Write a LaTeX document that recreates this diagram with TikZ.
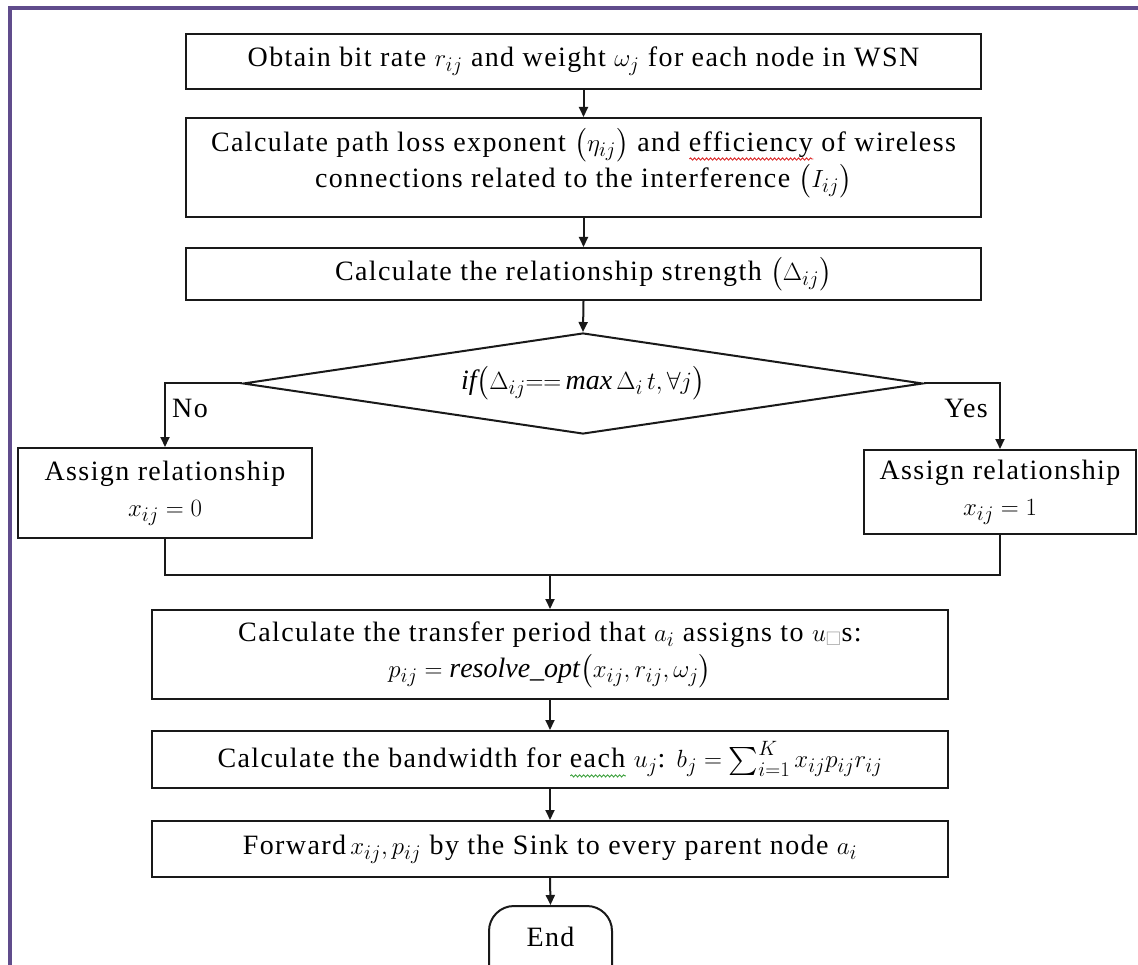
\documentclass[tikz,border=0pt]{standalone}
\usepackage{amsmath,amssymb}
\usepackage{fontspec}
\setmainfont[LetterSpace=5]{Liberation Serif}
\usetikzlibrary{shapes.geometric,arrows.meta,decorations.pathmorphing}

\definecolor{framepurple}{RGB}{96,76,140}
\definecolor{ink}{RGB}{25,25,25}
\definecolor{spellred}{RGB}{220,40,40}
\definecolor{grammargreen}{RGB}{60,160,60}

% word with a wavy proofing underline drawn beneath it
\newcommand\squiggle[2]{\setbox0=\hbox{#2}\rlap{\tikz[baseline=0pt]\draw[#1,line width=0.9pt,
  decorate,decoration={snake,amplitude=1.1pt,segment length=4pt}] (0pt,-8pt) -- (\wd0,-8pt);}\box0\relax}

\begin{document}
\begin{tikzpicture}[x=1pt,y=-1pt,
  txt/.style={font=\fontsize{28}{36}\selectfont},
  box/.style={txt,draw=ink,line width=2pt,rectangle,inner sep=4pt,align=center},
  arr/.style={draw=ink,line width=2pt,-{Triangle[length=10pt,width=9pt]}},
  link/.style={draw=ink,line width=2pt},
  lbl/.style={txt,inner sep=2pt},
]
\useasboundingbox (0,0) rectangle (1138,965);

% page frame
\draw[framepurple,line width=4pt] (10,965) -- (10,8) -- (1138,8);

% process steps
\node[box,minimum width=795pt,minimum height=55pt] (b1) at (583.5,61.5)
  {Obtain bit rate $r_{ij}$ and weight $\omega_j$ for each node in WSN};
\node[box,minimum width=795pt,minimum height=99pt,text depth=20pt] (b2) at (583.5,167.5)
  {Calculate path loss exponent $\bigl(\eta_{ij}\bigr)$ and \squiggle{spellred}{efficiency} of wireless\\
   connections related to the interference $\bigl(I_{ij}\bigr)$};
\node[box,minimum width=795pt,minimum height=52pt] (b3) at (583.5,274)
  {Calculate the relationship strength $\bigl(\Delta_{ij}\bigr)$};

% decision
\node[txt,draw=ink,line width=2pt,diamond,aspect=6.73,minimum width=680pt,minimum height=101pt,inner sep=0pt]
  (dec) at (583,383.5)
  {$\mathit{if}\bigl(\Delta_{ij}{=}{=}\,\mathit{max}\,\Delta_i\,t,\forall j\bigr)$};

\node[box,minimum width=294pt,minimum height=90pt] (lb) at (165,493)
  {Assign relationship\\ $x_{ij}=0$};
\node[box,minimum width=272pt,minimum height=84pt] (rb) at (1000,492)
  {Assign relationship\\ $x_{ij}=1$};

\node[lbl,anchor=west] (no) at (170,408) {No};
\node[lbl,anchor=east] (yes) at (990,408) {Yes};

\node[box,minimum width=796pt,minimum height=89pt] (b4) at (550,654.5)
  {Calculate the transfer period that $a_i$ assigns to $u_{\textcolor{gray!70}{\square}}$s:\\
   $p_{ij}=\mathit{resolve\_opt}\bigl(x_{ij},r_{ij},\omega_j\bigr)$};
\node[box,minimum width=796pt,minimum height=57pt] (b5) at (550,759.5)
  {Calculate the bandwidth for \squiggle{grammargreen}{each} $u_j$: $b_j=\sum_{i=1}^{K} x_{ij}p_{ij}r_{ij}$};
\node[box,minimum width=796pt,minimum height=56pt] (b6) at (550,849)
  {Forward$\,x_{ij},p_{ij}$ by the Sink to every parent node $a_i$};

% terminal
\node[txt,draw=ink,line width=2pt,rectangle,rounded corners=25pt,minimum width=123pt,minimum height=94pt,text depth=32pt]
  (endn) at (550.5,953) {End};

% connectors
\draw[arr] (b1.south) -- (b2.north);
\draw[arr] (b2.south) -- (b3.north);
\draw[arr] (b3.south) -- (dec.north);
\draw[arr] (dec.west) -| (lb.north);
\draw[arr] (dec.east) -| (rb.north);
\coordinate (m) at (550,575);
\draw[link] (lb.south) |- (m);
\draw[link] (rb.south) |- (m);
\draw[arr] (m) -- (b4.north);
\draw[arr] (b4.south) -- (b5.north);
\draw[arr] (b5.south) -- (b6.north);
\draw[arr] (b6.south) -- (endn.north);
\end{tikzpicture}
\end{document}
